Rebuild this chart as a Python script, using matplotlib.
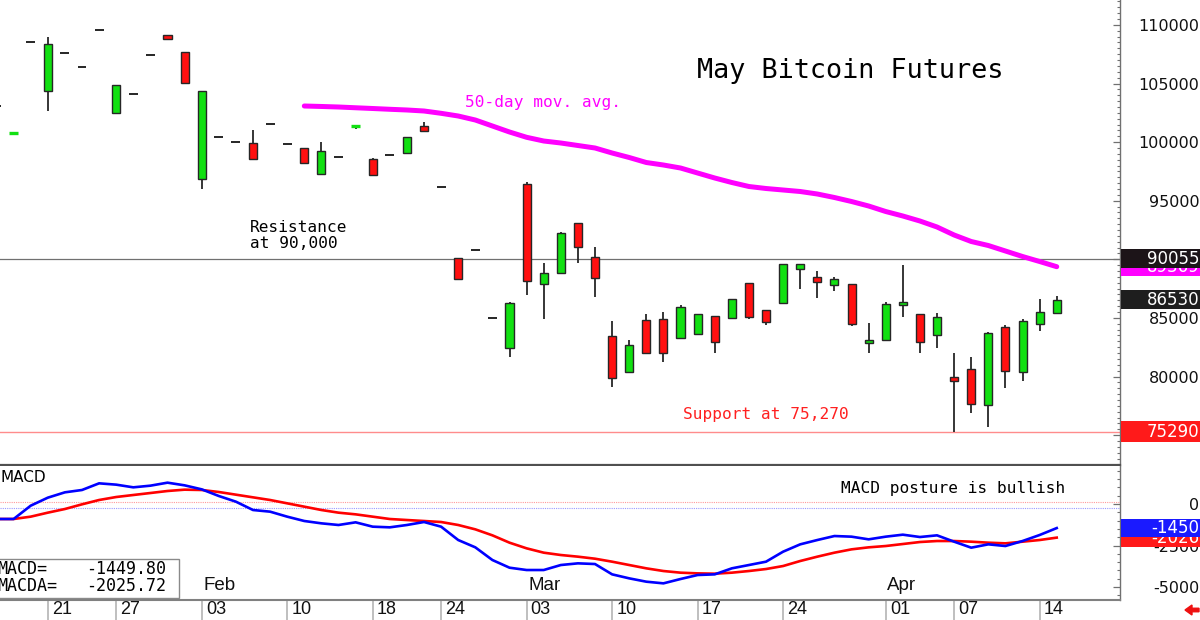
import matplotlib
matplotlib.use("Agg")
import matplotlib.pyplot as plt
from matplotlib.patches import Rectangle, FancyArrow
from matplotlib.ticker import MultipleLocator
import matplotlib.transforms as mtransforms

# ---------------- data ----------------
dates = ["2025-01-15", "2025-01-16", "2025-01-17", "2025-01-21", "2025-01-22", "2025-01-23", "2025-01-24",
         "2025-01-27", "2025-01-28", "2025-01-29", "2025-01-30", "2025-01-31",
         "2025-02-03", "2025-02-04", "2025-02-05", "2025-02-06", "2025-02-07",
         "2025-02-10", "2025-02-11", "2025-02-12", "2025-02-13", "2025-02-14",
         "2025-02-18", "2025-02-19", "2025-02-20", "2025-02-21",
         "2025-02-24", "2025-02-25", "2025-02-26", "2025-02-27", "2025-02-28",
         "2025-03-03", "2025-03-04", "2025-03-05", "2025-03-06", "2025-03-07",
         "2025-03-10", "2025-03-11", "2025-03-12", "2025-03-13", "2025-03-14",
         "2025-03-17", "2025-03-18", "2025-03-19", "2025-03-20", "2025-03-21",
         "2025-03-24", "2025-03-25", "2025-03-26", "2025-03-27", "2025-03-28",
         "2025-03-31", "2025-04-01", "2025-04-02", "2025-04-03", "2025-04-04",
         "2025-04-07", "2025-04-08", "2025-04-09", "2025-04-10", "2025-04-11",
         "2025-04-14", "2025-04-15"]

opens = [103100, 100700, 108540, 104380, 107630, 106430, 109570, 102460, 104130, 107430, 109160, 107690,
         96830, 100410, 100030, 99900, 101520, 99840, 99500, 97300, 98750, 101340, 98530, 98900, 99040, 101370,
         96150, 90090, 90790, 84970, 82460, 96400, 87870, 88830, 93120, 90200, 83460, 80360, 84820, 84910, 83260,
         83600, 85190, 85020, 87950, 85650, 86300, 89150, 88520, 87780, 87890, 82860, 83090, 86080, 85310, 83570,
         79960, 80610, 77540, 84220, 80410, 84450, 85390]
highs = [103100, 100780, 108540, 108990, 107630, 106430, 109570, 104850, 104130, 107430, 109160, 107690,
         104390, 100410, 100030, 101030, 101520, 99840, 99500, 99980, 98750, 101400, 98670, 98900, 100440, 101740,
         96150, 90090, 90790, 84970, 86380, 96600, 89660, 92330, 93120, 91020, 84740, 83110, 85330, 85530, 86100,
         85330, 85190, 86590, 87950, 85650, 89630, 89630, 89030, 88520, 87890, 84590, 86380, 89510, 85310, 85390,
         81980, 81660, 83820, 84390, 84910, 86610, 86840]
lows = [103100, 100700, 108540, 102680, 107630, 106430, 109570, 102460, 104130, 107430, 108770, 105040,
        95970, 100410, 100030, 98580, 101520, 99840, 98220, 97300, 98750, 101120, 97190, 98900, 99040, 100920,
        96150, 88290, 90790, 84970, 81690, 86950, 84910, 88830, 89710, 86760, 79130, 80360, 82030, 81260, 83260,
        83600, 82030, 84880, 84910, 84390, 86300, 87470, 86720, 87320, 84330, 81980, 83090, 85100, 81980, 82460,
        75290, 76910, 75720, 78990, 79620, 83880, 85390]
closes = [103100, 100780, 108540, 108390, 107630, 106430, 109570, 104850, 104130, 107430, 108770, 105040,
          104390, 100410, 100030, 98580, 101520, 99840, 98220, 99270, 98750, 101400, 97190, 98900, 100440, 100920,
          96150, 88290, 90790, 84970, 86300, 88150, 88860, 92220, 91080, 88380, 79850, 82690, 82030, 82030, 85910,
          85330, 82920, 86590, 85100, 84680, 89630, 89630, 88060, 88320, 84510, 83110, 86160, 86360, 82970, 85050,
          79590, 77630, 83690, 80500, 84710, 85530, 86530]

ma50_first_date = "2025-02-11"
ma50 = [103080, 103040, 102995, 102930, 102867, 102800, 102740, 102654, 102457, 102227, 101885, 101374,
        100862, 100410, 100094, 99923, 99710, 99497, 99070, 98686, 98259, 98046, 97790, 97363, 96937,
        96553, 96212, 96041, 95913, 95785, 95572, 95273, 94932, 94548, 94078, 93695, 93268, 92756,
        92073, 91519, 91177, 90708, 90239, 89812, 89369]

macd = [-904, -904, -101, 381, 703, 844, 1245, 1165, 1004, 1104, 1285, 1124, 883, 482, 140,
        -362, -462, -763, -1024, -1165, -1265, -1104, -1366, -1406, -1265, -1085, -1366, -2170, -2611,
        -3375, -3837, -3977, -3977, -3676, -3575, -3616,
        -4238, -4479, -4680, -4780, -4519, -4278, -4238, -3876, -3676, -3475, -2872, -2430, -2170,
        -1929, -1968, -2129, -1968, -1848, -1989, -1888, -2270, -2631, -2430, -2531, -2230, -1868, -1450]
macd_avg = [-904, -904, -763, -522, -302, -20, 241, 421, 542, 662, 783, 863, 844, 723, 562,
            401, 241, 40, -161, -362, -522, -623, -763, -904, -965, -1024, -1085, -1265, -1527,
            -1888, -2330, -2671, -2932, -3073, -3173, -3295,
            -3475, -3676, -3876, -4037, -4137, -4178, -4198, -4137, -4037, -3917, -3736, -3434, -3173,
            -2932, -2732, -2611, -2531, -2411, -2290, -2230, -2230, -2270, -2330, -2370, -2270, -2170, -2026]
macd_last = -1449.80
macda_last = -2025.72

resistance_level = 90055
support_level = 75290

tick_dates = ["2025-01-21", "2025-01-27", "2025-02-03", "2025-02-10", "2025-02-18", "2025-02-24",
              "2025-03-03", "2025-03-10", "2025-03-17", "2025-03-24", "2025-04-01", "2025-04-07", "2025-04-14"]
month_starts = {"2025-02-03": "Feb", "2025-03-03": "Mar", "2025-04-01": "Apr"}
price_ticks = [75000, 80000, 85000, 90000, 95000, 100000, 105000, 110000]
macd_ticks = [0, -2500, -5000]

# ---------------- figure ----------------
W, H = 1200, 620
fig = plt.figure(figsize=(W / 100, H / 100), dpi=100)
fig.patch.set_facecolor("white")

AX_R = 1120
ax = fig.add_axes([0, 1 - 465 / H, AX_R / W, 465 / H])
ax2 = fig.add_axes([0, 20 / H, AX_R / W, 134 / H])

xs = list(range(len(dates)))
x_left, x_right = 0.205, 65.70
for a in (ax, ax2):
    a.set_xlim(x_left, x_right)
    a.set_facecolor("white")
    for s in ("left", "top"):
        a.spines[s].set_visible(False)
    a.spines["right"].set_color("#707070")
    a.spines["right"].set_linewidth(1.0)

ax.set_ylim(72449, 112125)
ax2.set_ylim(-5783, 2289)
ax.spines["bottom"].set_color("#505050")
ax.spines["bottom"].set_linewidth(1.6)
ax2.spines["bottom"].set_color("#808080")
ax2.spines["bottom"].set_linewidth(1.5)

GREEN = "#12e012"
RED = "#ff1010"
EDGE = "#262626"

# candles
for i, o, h, l, c in zip(xs, opens, highs, lows, closes):
    if o == c and h == l == c:
        ax.hlines(c, i - 0.26, i + 0.26, color=EDGE, lw=1.4, zorder=3)
        continue
    if h > max(o, c) or l < min(o, c):
        ax.vlines(i, l, h, color=EDGE, lw=1.3, zorder=2)
    if abs(c - o) < 150:
        ax.hlines((o + c) / 2, i - 0.26, i + 0.26, color=GREEN if c >= o else RED, lw=2.4, zorder=3)
    else:
        ax.add_patch(Rectangle((i - 0.235, min(o, c)), 0.47, abs(c - o),
                               facecolor=GREEN if c > o else RED, edgecolor=EDGE, lw=1.0, zorder=3))

# moving average
ma_start = dates.index(ma50_first_date)
ax.plot(xs[ma_start:], ma50, color="#ff00ff", lw=3.6, solid_capstyle="round", zorder=4)

# levels
ax.axhline(resistance_level, color="#707070", lw=0.9, zorder=1)
ax.axhline(support_level, color="#ff8c8c", lw=1.0, zorder=1)

# right price axis
ax.yaxis.tick_right()
ax.set_yticks(price_ticks)
ax.set_yticklabels([str(v) for v in price_ticks])
ax.yaxis.set_minor_locator(MultipleLocator(500))
ax.tick_params(axis="y", which="major", direction="in", length=5, width=0.9, color="#707070",
               pad=57, labelsize=11.5, labelcolor="#111111")
ax.tick_params(axis="y", which="minor", direction="in", length=2.5, width=0.8, color="#707070")
for lbl in ax.get_yticklabels():
    lbl.set_horizontalalignment("right")
ax.tick_params(axis="x", bottom=False, labelbottom=False)

# MACD panel
ax2.axhline(100, color="#ff9a9a", lw=0.8, ls=(0, (1, 1)), zorder=1)
ax2.axhline(-260, color="#9a9aff", lw=0.8, ls=(0, (1, 1)), zorder=1)
ax2.plot(xs, macd_avg, color="#ff0000", lw=1.9, zorder=3)
ax2.plot(xs, macd, color="#0000ff", lw=1.9, zorder=4)
ax2.yaxis.tick_right()
ax2.set_yticks(macd_ticks)
ax2.set_yticklabels([str(v) for v in macd_ticks])
ax2.yaxis.set_minor_locator(MultipleLocator(500))
ax2.tick_params(axis="y", which="major", direction="in", length=5, width=0.9, color="#707070",
                pad=57, labelsize=11.5, labelcolor="#111111")
ax2.tick_params(axis="y", which="minor", direction="in", length=2.5, width=0.8, color="#707070")
for lbl in ax2.get_yticklabels():
    lbl.set_horizontalalignment("right")

tick_idx = [dates.index(d) for d in tick_dates]
ax2.set_xticks(tick_idx)
ax2.tick_params(axis="x", direction="out", length=14.4, width=1.2, color="#b4b4b4", labelbottom=False)
xtrans = mtransforms.blended_transform_factory(ax2.transData, ax2.transAxes)
for d, i in zip(tick_dates, tick_idx):
    ax2.text(i + 0.24, -10 / 134, d[-2:], transform=xtrans, ha="left", va="center",
             fontsize=13, family="Liberation Sans", color="#111111", clip_on=False)
    if d in month_starts:
        ax2.text(i + 0.1, 15 / 134, month_starts[d], transform=xtrans, ha="left", va="center",
                 fontsize=13.5, family="Liberation Sans", color="#111111")


# ---------------- texts ----------------
def main_px(x, y):
    return x / AX_R, 1 - y / 465


def macd_px(x, y):
    return x / AX_R, (600 - y) / 134


mono = "DejaVu Sans Mono"
ax.text(*main_px(697, 71), "May Bitcoin Futures", transform=ax.transAxes, ha="left", va="center",
        fontsize=19.4, family=mono, color="black")
ax.text(*main_px(465, 103), "50-day mov. avg.", transform=ax.transAxes, ha="left", va="center",
        fontsize=11.6, family=mono, color="#ff00ff")
ax.text(*main_px(250, 228), "Resistance", transform=ax.transAxes, ha="left", va="center",
        fontsize=11.6, family=mono, color="black")
ax.text(*main_px(250, 243), "at 90,000", transform=ax.transAxes, ha="left", va="center",
        fontsize=11.6, family=mono, color="black")
ax.text(*main_px(683, 415), "Support at 75,270", transform=ax.transAxes, ha="left", va="center",
        fontsize=11.6, family=mono, color="#ff2020")

ax2.text(*macd_px(841, 489), "MACD posture is bullish", transform=ax2.transAxes, ha="left", va="center",
         fontsize=11.6, family=mono, color="black")
ax2.text(*macd_px(0, 478), "MACD", transform=ax2.transAxes, ha="left", va="center",
         fontsize=11, color="black")

# MACD value legend box
lx0, ly0 = macd_px(-2, 598)
lx1, ly1 = macd_px(179, 559)
ax2.add_patch(Rectangle((lx0, ly0), lx1 - lx0, ly1 - ly0, transform=ax2.transAxes,
                        facecolor="white", edgecolor="#8a8a8a", lw=1.0, zorder=6, clip_on=False))
ax2.text(*macd_px(-3, 569), "MACD=", transform=ax2.transAxes, ha="left", va="center",
         fontsize=12, family=mono, color="black", zorder=7)
ax2.text(*macd_px(166, 569), f"{macd_last:.2f}", transform=ax2.transAxes, ha="right", va="center",
         fontsize=12, family=mono, color="black", zorder=7)
ax2.text(*macd_px(-3, 586), "MACDA=", transform=ax2.transAxes, ha="left", va="center",
         fontsize=12, family=mono, color="black", zorder=7)
ax2.text(*macd_px(166, 586), f"{macda_last:.2f}", transform=ax2.transAxes, ha="right", va="center",
         fontsize=12, family=mono, color="black", zorder=7)


# ---------------- right-edge value boxes ----------------
def value_box(a, value, text, color, h_px=19, z=5):
    y = a.transData.transform((0, value))[1]
    fig.add_artist(Rectangle(((AX_R + 1) / W, (y - h_px / 2) / H), (W - AX_R - 1) / W, h_px / H,
                             transform=fig.transFigure, facecolor=color, edgecolor="none", zorder=z))
    fig.text(1199 / W, y / H, text, ha="right", va="center", color="white", fontsize=12, zorder=z + 0.5)


value_box(ax, ma50[-1], f"{ma50[-1]}", "#ff00ff", z=5)
value_box(ax, resistance_level, f"{resistance_level}", "#1c1418", z=6)
value_box(ax, closes[-1], f"{closes[-1]}", "#1e1e1e", z=6)
value_box(ax, support_level, f"{support_level}", "#ff1a1a", h_px=21, z=6)
value_box(ax2, macda_last, f"{macda_last:.0f}", "#ff1a1a", h_px=18, z=5)
value_box(ax2, macd_last, f"{macd_last:.0f}", "#1a1aff", h_px=18, z=6)

# small red arrow bottom right
fig.add_artist(FancyArrow(11.99, 0.10, -0.14, 0, width=0.035, head_width=0.1, head_length=0.07,
                          length_includes_head=True, color="#ee1111", transform=fig.dpi_scale_trans))

fig.savefig("out.png", dpi=100)
